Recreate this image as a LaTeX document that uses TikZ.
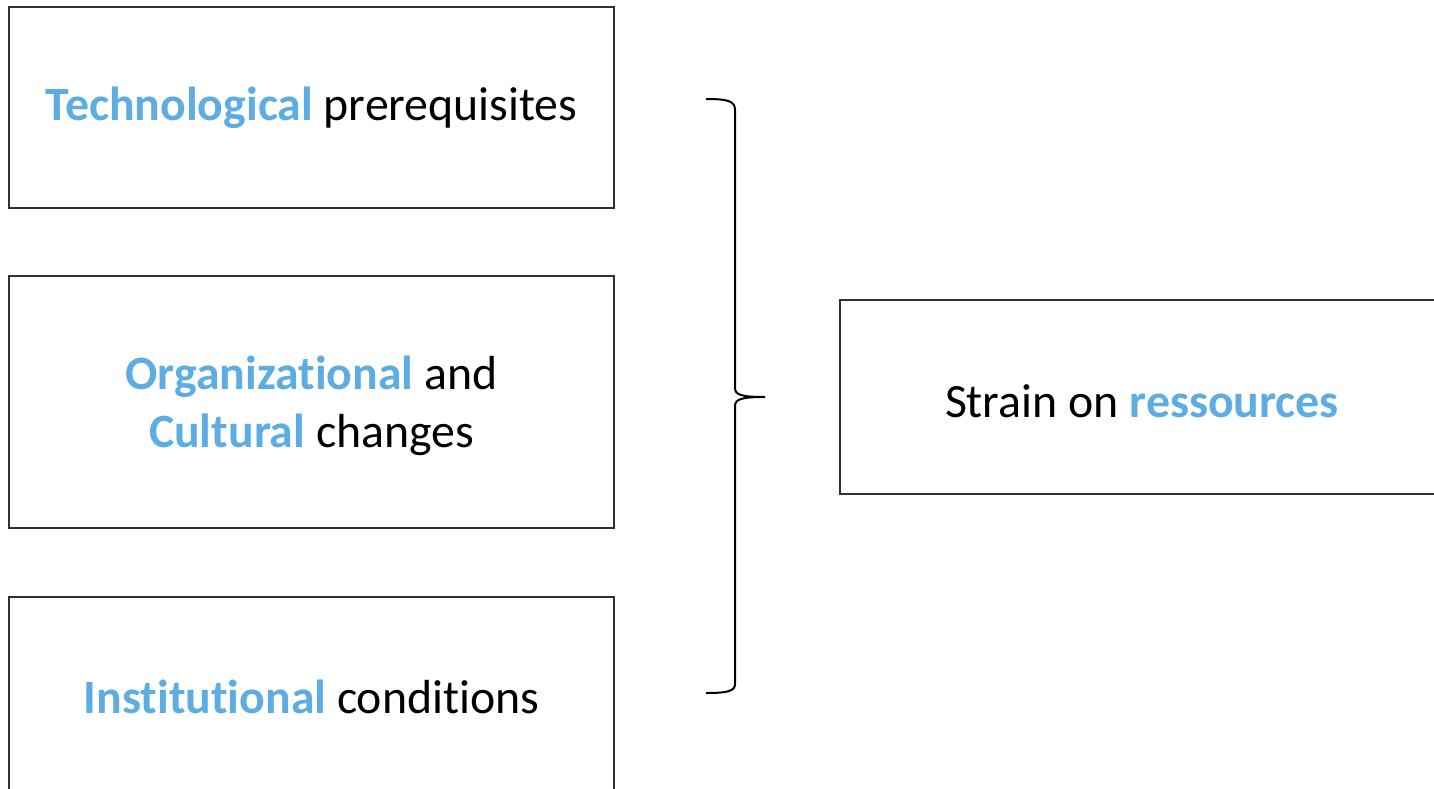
\documentclass[tikz,border=0pt]{standalone}
\usepackage{fontspec}
\setmainfont[RawFeature=-liga]{Carlito}
\definecolor{accent}{HTML}{5DADE2}
\definecolor{boxline}{HTML}{303030}
\newcommand{\hl}[1]{\textbf{\textcolor{accent}{#1}}}
\begin{document}
\begin{tikzpicture}[x=0.5pt,y=-0.5pt,
  box/.style={draw=boxline,line width=0.6pt},
  lbl/.style={font=\fontsize{23.9}{29}\selectfont,align=center,inner sep=0pt,text=black},
  brace/.style={draw=black,line width=1pt}]
\useasboundingbox (0,0) rectangle (1434,788);
\begin{scope}
\clip (0,0) rectangle (1434,788);
\draw[box] (9,7) rectangle (614,208);
\draw[box] (9,276) rectangle (614,528);
\draw[box] (9,597) rectangle (614,800);
\draw[box] (840,300) rectangle (1450,494);
\end{scope}
\node[lbl] (t1) at (311.5,108) {\hl{Technological} prerequisites};
\node[lbl] (t2) at (311.5,406) {\hl{Organizational} and\\\hl{Cultural} changes};
\node[lbl] (t3) at (311.5,697) {\hl{Institutional} conditions};
\node[lbl] (t4) at (1142,401) {Strain on \hl{ressources}};
\coordinate (bt) at (706,99);
\coordinate (bm) at (765,397);
\coordinate (bb) at (706,693);
\draw[brace] (bt) .. controls (728,99) and (735,101) .. (735,110) -- (735,388)
  .. controls (735,395) and (742,397) .. (bm)
  .. controls (742,397) and (735,399) .. (735,406) -- (735,684)
  .. controls (735,691) and (728,693) .. (bb);
\end{tikzpicture}
\end{document}
